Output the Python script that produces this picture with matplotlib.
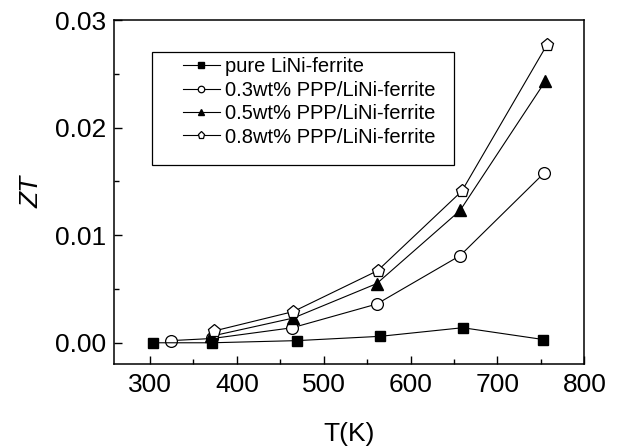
import matplotlib
matplotlib.use("Agg")
import matplotlib.pyplot as plt
from matplotlib.patches import Rectangle
from matplotlib.ticker import MultipleLocator

plt.rcParams['font.family'] = ['Liberation Sans', 'DejaVu Sans']

labels = ["pure LiNi-ferrite", "0.3wt% PPP/LiNi-ferrite",
          "0.5wt% PPP/LiNi-ferrite", "0.8wt% PPP/LiNi-ferrite"]

T_pure = [304, 371, 469, 565, 660, 753]
ZT_pure = [0.0000, 0.0000, 0.0002, 0.0006, 0.0014, 0.0003]

T_03 = [324, 372, 464, 561, 657, 754]
ZT_03 = [0.0002, 0.0004, 0.0014, 0.0036, 0.0081, 0.0158]

T_05 = [370, 465, 561, 657, 755]
ZT_05 = [0.0006, 0.0023, 0.0055, 0.0123, 0.0243]

T_08 = [374, 465, 562, 659, 757]
ZT_08 = [0.0011, 0.0029, 0.0067, 0.0141, 0.0277]

fig = plt.figure(figsize=(6.18, 4.46), dpi=100)
ax = fig.add_axes([0.185, 0.1832, 0.7605, 0.7718])

lw = 0.8
ax.plot(T_pure, ZT_pure, '-', color='black', lw=lw, marker='s', ms=7.5,
        mfc='black', mec='black', label=labels[0], zorder=3)
ax.plot(T_03, ZT_03, '-', color='black', lw=lw, marker='o', ms=8.5,
        mfc='white', mec='black', mew=0.9, label=labels[1], zorder=2)
ax.plot(T_05, ZT_05, '-', color='black', lw=lw, marker='^', ms=9,
        mfc='black', mec='black', label=labels[2], zorder=2)
ax.plot(T_08, ZT_08, '-', color='black', lw=lw, marker='p', ms=9.5,
        mfc='white', mec='black', mew=0.9, label=labels[3], zorder=2)

ax.set_xlim(259, 800)
ax.set_ylim(-0.002, 0.03)
ax.xaxis.set_major_locator(MultipleLocator(100))
ax.xaxis.set_minor_locator(MultipleLocator(50))
ax.yaxis.set_major_locator(MultipleLocator(0.01))
ax.yaxis.set_minor_locator(MultipleLocator(0.005))
ax.yaxis.set_major_formatter(matplotlib.ticker.FormatStrFormatter('%.2f'))
ax.tick_params(which='both', direction='in', labelsize=19, width=1)
ax.tick_params(which='major', length=6, pad=6)
ax.tick_params(which='minor', length=3.5)
for s in ax.spines.values():
    s.set_linewidth(1.1)

ax.set_xlabel("T(K)", fontsize=19, labelpad=18)
ax.set_ylabel("ZT", fontsize=19, fontstyle='italic', labelpad=8)

leg = ax.legend(loc='upper left', bbox_to_anchor=(0.1455, 0.892), frameon=False,
                fontsize=14.5, handlelength=1.85, handletextpad=0.25,
                labelspacing=0.22, markerscale=0.55, borderpad=0, borderaxespad=0)
ax.add_patch(Rectangle((0.0796, 0.579), 0.6438, 0.329, transform=ax.transAxes,
                       fill=False, edgecolor='black', lw=0.9, zorder=4))

fig.savefig("out.png", dpi=100)
